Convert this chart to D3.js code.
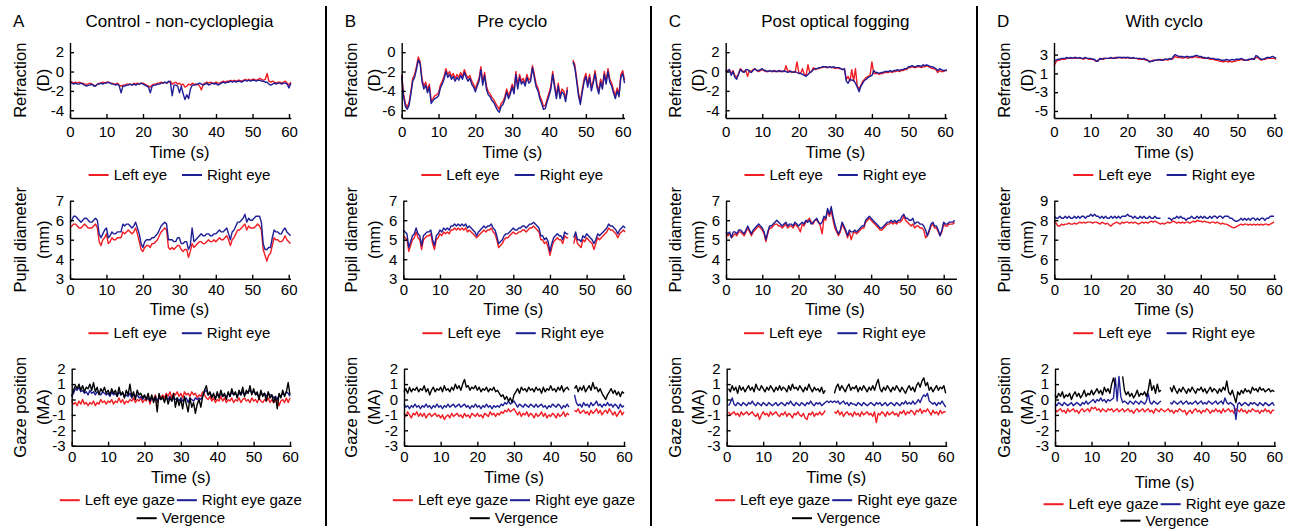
<!DOCTYPE html>
<html><head><meta charset="utf-8">
<script src="https://cdn.jsdelivr.net/npm/d3@7"></script>
<style>
body{margin:0;background:#fff}
svg text{font-family:"Liberation Sans",Arial,Helvetica,sans-serif;fill:#000}
</style>
</head><body>
<svg id="c" width="1294" height="531"></svg>
<script>
// ---------------- DATA ----------------
const DT = 0.5; // sampling step (s) of every series below
const timeTicks = [0,10,20,30,40,50,60];
const columnLetters = ["A","B","C","D"];
const columnTitles = ["Control - non-cycloplegia","Pre cyclo","Post optical fogging","With cyclo"];
const rowLabels = [["Refraction","(D)"],["Pupil diameter","(mm)"],["Gaze position","(MA)"]];
const legendEye = ["Left eye","Right eye"];
const legendGaze = ["Left eye gaze","Right eye gaze","Vergence"];
const xLabel = "Time (s)";

const refrTicksAC = [2,0,-2,-4];
const refrTicksB = [0,-2,-4,-6];
const refrTicksD = [3,1,-1,-3];
const refrTickLabelsD = ["3","1","-3","-5"];
const pupilTicks = [3,4,5,6,7];
const pupilTicksD = [5,6,7,8,9];
const gazeTicks = [2,1,0,-1,-2,-3];

// Column A
const refrLeftA = [
-1.0,-1.1,-1.2,-1.1,-1.2,-1.1,-1.2,-1.2,-1.3,-1.3,
-1.3,-1.2,-1.3,-1.4,-1.5,-1.3,-1.2,-1.2,-1.1,-1.2,
-1.1,-1.1,-1.2,-1.2,-1.3,-1.3,-1.2,-1.4,-1.5,-1.4,
-1.4,-1.3,-1.3,-1.3,-1.4,-1.2,-1.3,-1.2,-1.3,-1.2,
-1.2,-1.3,-1.4,-1.5,-1.6,-1.4,-1.3,-1.3,-1.2,-1.2,
-1.1,-1.2,-1.1,-1.2,-1.1,-1.0,-1.3,-1.2,-1.1,-1.3,
-1.2,-1.4,-1.3,-1.6,-1.5,-1.3,-1.4,-1.2,-1.3,-1.4,
-1.3,-1.5,-1.9,-1.3,-1.2,-1.1,-1.2,-1.1,-1.2,-1.2,
-1.1,-1.2,-1.2,-1.1,-1.0,-1.1,-1.0,-1.0,-0.9,-1.0,
-0.9,-1.0,-0.9,-0.9,-1.0,-0.9,-0.8,-0.9,-0.8,-0.9,
-0.8,-0.8,-0.9,-0.8,-0.7,-0.8,-0.9,-0.8,-0.2,-1.0,
-1.1,-1.0,-1.1,-1.2,-1.1,-1.1,-1.2,-1.1,-1.0,-1.2,
-1.4,-1.1];
const refrRightA = [
-1.1,-1.2,-1.3,-1.2,-1.3,-1.3,-1.2,-1.3,-1.4,-1.5,
-1.4,-1.4,-1.3,-1.5,-1.5,-1.3,-1.3,-1.2,-1.3,-1.2,
-1.2,-1.1,-1.2,-1.3,-1.3,-1.4,-1.3,-1.5,-2.2,-1.5,
-1.5,-1.4,-1.4,-1.3,-1.4,-1.3,-1.4,-1.3,-1.3,-1.2,
-1.3,-1.4,-1.5,-1.6,-2.2,-1.5,-1.4,-1.4,-1.3,-1.3,
-1.2,-1.2,-1.1,-1.2,-1.0,-1.1,-2.5,-1.4,-1.4,-1.5,
-2.2,-1.5,-2.3,-2.9,-2.4,-2.8,-1.8,-1.4,-1.4,-1.3,
-1.3,-1.2,-1.3,-1.4,-1.3,-1.2,-1.4,-1.3,-1.2,-1.3,
-1.2,-1.4,-1.3,-1.2,-1.1,-1.2,-1.1,-1.1,-1.0,-1.1,
-1.0,-1.1,-1.0,-1.0,-1.1,-1.0,-0.9,-1.0,-0.9,-1.0,
-0.9,-0.9,-1.0,-0.9,-0.9,-1.0,-1.0,-1.1,-1.1,-1.3,
-1.4,-1.3,-1.2,-1.3,-1.2,-1.2,-1.3,-1.2,-1.2,-1.3,
-1.7,-1.2];
const pupilLeftA = [
5.6,5.7,5.8,5.8,5.7,5.6,5.6,5.7,5.8,5.7,
5.6,5.6,5.6,5.7,5.8,5.6,4.9,4.7,5.0,5.1,
5.3,4.8,4.9,5.1,5.0,5.0,5.1,5.1,5.1,5.4,
5.3,5.4,5.5,5.4,5.3,5.4,5.6,5.3,4.9,4.5,
4.4,4.6,4.7,4.7,4.6,4.8,4.8,4.9,5.0,5.2,
5.4,5.5,5.6,5.5,4.6,4.5,4.6,4.5,4.6,4.7,
4.7,4.5,4.4,4.5,4.5,4.1,4.4,4.8,4.6,4.7,
4.8,4.9,4.9,4.8,4.8,4.9,5.0,4.9,4.9,5.0,
4.9,5.0,5.1,5.0,5.0,5.1,5.2,5.0,4.7,5.0,
5.1,5.3,5.5,5.5,5.6,5.7,5.8,5.5,5.7,5.6,
5.6,5.6,5.7,5.8,5.7,5.5,4.5,4.2,3.9,4.2,
4.3,4.7,5.1,5.0,5.0,4.9,4.9,5.0,5.2,5.0,
4.9,4.8];
const pupilRightA = [
5.9,6.0,6.2,6.2,6.1,6.0,5.9,6.0,6.1,6.1,
6.0,5.9,5.9,6.0,6.1,6.0,5.3,5.1,5.3,5.5,
5.6,5.1,5.2,5.4,5.3,5.3,5.4,5.4,5.4,5.8,
5.7,5.8,5.8,5.7,5.6,5.7,5.9,5.6,5.3,4.8,
4.6,4.9,5.0,5.0,5.0,5.1,5.1,5.2,5.3,5.5,
5.7,5.8,5.9,5.8,5.0,5.0,5.0,4.9,4.9,5.1,
5.1,4.8,4.8,4.9,4.9,4.5,4.7,5.6,4.9,5.0,
5.1,5.2,5.3,5.2,5.2,5.3,5.3,5.2,5.2,5.3,
5.3,5.4,5.5,5.4,5.4,5.5,5.6,5.3,5.0,5.4,
5.5,5.7,5.9,5.9,6.0,6.1,6.3,5.9,6.1,6.0,
6.0,6.1,6.2,6.2,6.2,5.9,4.8,4.5,4.5,4.6,
4.6,5.1,5.5,5.4,5.4,5.3,5.3,5.5,5.6,5.4,
5.3,5.2];
const gazeLeftA = [
-0.1,-0.3,-0.2,-0.4,-0.1,-0.3,0.0,-0.3,-0.2,-0.4,
-0.2,-0.3,-0.1,-0.4,-0.2,-0.3,0.0,-0.2,-0.1,-0.3,
-0.1,-0.2,0.0,-0.3,-0.1,-0.2,0.1,-0.2,0.0,-0.3,
-0.1,-0.2,0.0,-0.1,0.1,-0.2,0.0,-0.1,0.1,-0.2,
0.0,-0.1,0.2,-0.3,0.1,0.0,0.3,-0.2,0.2,0.1,
0.3,0.1,0.4,0.2,0.5,0.1,0.4,0.3,0.5,0.2,
0.4,0.1,0.5,0.3,0.4,0.2,0.5,0.3,0.4,0.1,
0.3,0.2,0.5,0.3,0.1,0.0,0.2,-0.1,0.1,-0.2,
0.0,-0.1,0.2,-0.1,0.1,-0.2,0.0,-0.1,0.1,-0.2,
0.0,-0.1,0.1,-0.2,0.0,0.1,-0.1,0.0,-0.2,0.1,
-0.1,0.0,-0.2,0.1,-0.1,-0.2,0.0,-0.1,0.1,-0.2,
0.0,-0.2,-0.1,0.1,-0.4,-0.1,0.0,-0.2,0.1,-0.2,
0.1];
const gazeRightA = [
0.2,0.4,0.7,0.6,0.8,0.5,0.6,0.4,0.5,0.3,
0.6,0.4,0.5,0.3,0.5,0.4,0.3,0.5,0.4,0.3,
0.4,0.2,0.5,0.3,0.4,0.2,0.5,0.3,0.4,0.2,
0.3,0.2,0.4,0.1,0.3,0.2,0.3,0.1,0.2,0.0,
0.2,0.0,0.1,-0.1,0.1,0.0,0.2,-0.1,0.1,0.0,
0.1,-0.1,0.1,0.0,0.2,-0.1,0.1,0.0,0.1,-0.1,
0.1,-0.1,0.0,0.1,-0.2,0.1,0.0,-0.1,0.1,0.0,
0.1,0.0,0.2,0.5,0.6,0.3,0.4,0.2,0.3,0.1,
0.3,0.2,0.4,0.2,0.3,0.1,0.4,0.2,0.5,0.3,
0.4,0.2,0.4,0.3,0.5,0.3,0.4,0.5,0.6,0.4,
0.5,0.4,0.3,0.2,0.4,0.3,0.4,0.2,0.4,0.3,
0.3,0.1,0.2,0.0,0.3,0.2,0.4,0.3,0.5,0.4,
0.2];
const vergenceA = [
0.2,0.6,0.9,0.7,1.0,0.6,0.9,0.5,0.8,0.7,
1.0,0.6,1.1,0.5,0.8,0.3,0.7,0.5,0.8,0.4,
0.6,0.3,0.7,0.4,0.6,0.2,0.8,0.3,0.5,0.1,
0.6,0.3,1.0,0.2,0.5,0.0,0.6,0.3,0.4,0.1,
0.3,0.0,0.4,-0.1,0.3,-0.2,0.2,-0.8,0.4,0.0,
0.2,-0.2,0.3,-0.3,0.1,-0.1,0.4,-0.5,0.1,-0.4,
0.0,-0.6,0.2,-0.3,-0.8,0.1,-0.5,-0.2,-0.9,-0.3,
0.0,-0.5,0.2,0.6,0.9,0.3,0.5,0.1,0.4,0.0,
0.5,0.1,0.6,0.2,0.4,0.0,0.5,0.2,0.7,0.3,
0.5,0.1,0.6,0.3,0.8,0.2,0.6,0.4,0.9,0.3,
0.7,0.3,0.5,0.0,0.6,0.2,0.4,-0.1,0.5,0.1,
0.3,-0.2,0.2,-0.6,0.4,0.1,0.6,0.2,0.5,1.1,
0.3];

// Column B
const refrLeftB = [
-2.3,-4.3,-5.3,-5.7,-5.2,-4.0,-2.7,-2.3,-1.5,-0.5,
-1.0,-2.7,-3.5,-3.1,-3.9,-3.3,-5.0,-4.8,-4.5,-4.4,
-4.2,-3.4,-3.0,-2.5,-1.7,-2.3,-2.0,-2.5,-2.2,-2.7,
-2.3,-2.6,-2.1,-2.5,-1.8,-2.3,-2.7,-2.4,-3.0,-3.3,
-3.8,-3.2,-2.7,-1.5,-3.1,-2.1,-3.5,-4.1,-4.3,-4.7,
-4.9,-5.3,-5.6,-5.9,-5.3,-5.1,-4.6,-3.8,-4.5,-4.0,
-3.3,-4.0,-2.0,-3.5,-2.3,-3.0,-2.7,-3.2,-2.3,-2.9,
-2.7,-1.4,-2.3,-3.3,-3.7,-4.5,-5.0,-5.6,-5.5,-4.8,
-4.2,-3.5,-2.0,-3.3,-4.5,-3.2,-4.5,-3.8,-4.0,-4.8,
-3.6,null,null,-0.8,-1.3,-2.7,-4.2,-5.1,-3.9,-2.8,
-2.2,-3.3,-2.3,-3.7,-2.9,-1.9,-3.3,-4.0,-2.8,-3.5,
-2.0,-3.0,-1.7,-2.8,-3.2,-3.9,-4.5,-3.7,-4.3,-2.3,
-1.9,-2.9];
const refrRightB = [
-2.5,-4.6,-5.6,-5.9,-5.5,-4.3,-3.0,-2.6,-1.8,-0.8,
-1.2,-3.0,-3.8,-3.4,-4.2,-3.6,-5.3,-5.0,-4.8,-4.7,
-4.5,-3.7,-3.3,-2.8,-2.0,-2.6,-2.3,-2.8,-2.5,-3.0,
-2.6,-2.9,-2.4,-2.8,-2.1,-2.6,-3.0,-2.7,-3.3,-3.6,
-4.1,-3.5,-3.0,-1.8,-3.4,-2.4,-3.8,-4.4,-4.6,-5.0,
-5.2,-5.6,-6.0,-6.2,-5.6,-5.4,-4.9,-4.1,-4.8,-4.3,
-3.6,-4.3,-2.3,-3.8,-2.6,-3.3,-3.0,-3.5,-2.6,-3.2,
-3.0,-1.6,-2.6,-3.6,-4.0,-4.8,-5.3,-5.9,-5.8,-5.1,
-4.5,-3.8,-2.3,-3.6,-4.8,-3.5,-4.8,-4.1,-4.3,-5.1,
-3.9,null,null,-1.0,-1.6,-3.0,-4.5,-5.4,-4.2,-3.1,
-2.5,-3.6,-2.6,-4.0,-3.2,-2.2,-3.6,-4.3,-3.1,-3.8,
-2.3,-3.3,-2.0,-3.1,-3.5,-4.2,-4.8,-4.0,-4.6,-2.6,
-2.2,-3.2];
const pupilLeftB = [
5.2,5.1,5.0,4.4,4.7,5.0,5.1,5.4,5.1,5.0,
4.5,5.0,5.1,5.2,5.2,5.3,4.8,4.5,5.0,5.1,
5.3,5.2,5.4,5.3,5.4,5.3,5.5,5.5,5.6,5.5,
5.6,5.5,5.6,5.5,5.6,5.4,5.5,5.4,5.3,5.2,
5.1,5.2,5.3,5.4,5.5,5.4,5.5,5.5,5.6,5.4,
5.3,5.0,4.6,4.7,4.8,5.0,5.1,5.1,5.2,5.3,
5.4,5.3,5.3,5.4,5.4,5.5,5.5,5.4,5.5,5.6,
5.6,5.7,5.6,5.5,5.4,5.0,5.0,4.8,4.9,4.6,
4.2,4.6,4.9,5.0,5.1,5.0,5.0,4.8,5.2,5.1,
5.1,null,null,4.8,5.2,4.8,4.7,4.6,5.0,4.9,
5.1,5.0,4.9,4.8,4.5,4.8,5.1,5.0,5.1,5.2,
5.3,5.4,5.6,5.5,5.5,5.4,5.3,5.1,5.3,5.4,
5.5,5.4];
const pupilRightB = [
5.5,5.4,5.3,4.6,4.9,5.2,5.3,5.6,5.3,5.2,
4.7,5.2,5.3,5.4,5.4,5.5,5.0,4.7,5.2,5.3,
5.5,5.4,5.6,5.5,5.6,5.5,5.7,5.7,5.8,5.7,
5.8,5.7,5.8,5.7,5.8,5.6,5.7,5.6,5.5,5.4,
5.2,5.4,5.5,5.6,5.7,5.6,5.7,5.7,5.8,5.6,
5.5,5.2,4.8,4.9,5.0,5.2,5.3,5.3,5.4,5.5,
5.6,5.5,5.5,5.6,5.6,5.7,5.7,5.6,5.7,5.8,
5.8,5.9,5.8,5.7,5.6,5.2,5.2,5.0,5.1,4.9,
4.4,4.8,5.1,5.2,5.3,5.2,5.2,5.0,5.4,5.3,
5.3,null,null,5.1,5.4,5.0,5.0,4.9,5.2,5.1,
5.3,5.2,5.1,5.0,4.8,5.0,5.3,5.2,5.3,5.4,
5.5,5.6,5.8,5.7,5.7,5.6,5.5,5.3,5.5,5.6,
5.7,5.6];
const gazeLeftB = [
-0.9,-1.1,-0.8,-1.0,-1.2,-0.9,-1.0,-0.8,-1.1,-0.9,
-1.1,-0.9,-1.2,-1.0,-0.9,-1.1,-1.0,-0.9,-1.1,-1.0,
-1.2,-1.0,-1.3,-1.1,-1.0,-1.2,-0.9,-1.1,-1.0,-0.9,
-1.1,-1.0,-1.2,-0.9,-1.1,-1.0,-1.2,-0.9,-1.0,-1.1,
-0.9,-1.1,-1.0,-1.2,-0.9,-1.0,-1.1,-0.8,-1.0,-0.9,
-1.1,-0.9,-1.0,-0.8,-0.9,-0.7,-0.8,-0.6,-0.8,-0.7,
-0.6,-0.8,-1.0,-0.8,-1.1,-0.9,-1.0,-0.8,-1.1,-0.9,
-1.0,-1.2,-0.9,-1.1,-1.0,-0.8,-1.1,-0.9,-1.2,-1.0,
-1.1,-0.9,-1.0,-1.2,-0.9,-1.1,-1.0,-0.8,-1.1,-0.9,
-1.0,null,null,-0.7,-0.8,-0.6,-0.9,-0.8,-0.7,-0.9,
-0.8,-1.0,-0.7,-0.9,-0.8,-0.6,-0.9,-0.7,-1.0,-0.8,
-0.7,-0.9,-0.6,-0.8,-1.0,-0.8,-1.1,-0.9,-0.7,-1.0,
-0.8];
const gazeRightB = [
-0.3,-0.5,-0.4,-0.6,-0.4,-0.5,-0.3,-0.5,-0.4,-0.6,
-0.4,-0.5,-0.3,-0.5,-0.4,-0.6,-0.4,-0.5,-0.3,-0.5,
-0.4,-0.6,-0.4,-0.5,-0.3,-0.5,-0.4,-0.3,-0.5,-0.4,
-0.3,-0.5,-0.4,-0.3,-0.5,-0.4,-0.6,-0.4,-0.5,-0.3,
-0.5,-0.4,-0.6,-0.4,-0.5,-0.3,-0.5,-0.4,-0.6,-0.4,
-0.5,-0.4,-0.5,-0.3,-0.4,-0.2,-0.3,-0.1,-0.3,-0.2,
-0.1,-0.3,-0.5,-0.3,-0.4,-0.5,-0.3,-0.4,-0.5,-0.3,
-0.4,-0.5,-0.3,-0.5,-0.4,-0.3,-0.5,-0.4,-0.6,-0.4,
-0.5,-0.3,-0.4,-0.5,-0.3,-0.4,-0.6,-0.4,-0.5,-0.3,
-0.5,null,null,0.3,-0.2,-0.4,-0.3,-0.5,-0.2,-0.4,
-0.3,-0.5,-0.2,-0.4,-0.3,-0.1,-0.4,-0.3,-0.5,-0.3,
-0.4,-0.2,-0.4,-0.3,-0.5,-0.3,-0.4,-0.6,-0.3,-0.5,
-0.4];
const vergenceB = [
0.5,0.7,0.4,0.8,0.5,0.7,0.6,0.8,0.5,0.7,
0.6,0.9,0.5,0.7,0.3,0.6,0.8,0.5,0.7,0.6,
0.8,0.5,0.9,0.6,0.7,0.5,0.8,0.6,1.0,0.7,
0.9,0.6,1.0,1.3,0.8,0.9,0.6,0.8,0.7,0.9,
0.6,0.8,0.5,0.7,0.6,0.8,0.5,0.7,0.6,0.8,
0.5,0.6,0.4,0.2,0.3,0.0,0.2,-0.1,0.1,-0.2,
0.3,0.5,0.7,0.4,0.8,0.6,0.7,0.5,0.8,0.6,
0.7,0.5,0.8,0.6,0.7,0.4,0.8,0.5,0.7,0.6,
0.9,0.6,0.7,0.5,0.8,0.6,0.9,0.5,0.7,0.8,
0.6,null,null,0.7,0.9,0.5,0.8,0.6,0.9,0.5,
0.7,0.9,0.6,1.1,0.7,0.8,0.5,0.7,0.4,0.2,
0.0,0.3,0.5,0.7,0.4,0.6,0.3,0.5,0.2,0.5,
0.4];

// Column C
const refrLeftC = [
0.2,0.1,0.2,-0.2,0.1,-0.4,-0.6,-0.2,0.3,0.1,
0.0,0.1,-0.5,0.1,0.0,0.2,0.3,0.1,0.0,0.1,
0.2,0.1,0.0,0.0,0.1,0.0,0.0,0.1,0.0,0.0,
0.1,0.0,0.0,0.6,0.0,0.1,-0.1,0.0,-0.1,1.0,
-0.1,-0.2,0.3,-0.3,-0.4,0.7,-0.1,0.0,0.4,0.2,
0.3,0.3,0.4,0.4,0.5,0.4,0.4,0.5,0.4,0.4,
0.3,0.4,0.3,0.3,0.2,0.2,-0.8,-0.5,-1.0,0.2,
-1.0,0.3,-1.5,-1.8,-1.4,-1.0,-0.8,-0.6,-0.5,-0.4,
1.0,-0.2,-0.2,-0.2,-0.3,-0.2,-0.2,-0.1,-0.1,-0.1,
0.0,-0.1,0.0,0.0,0.1,0.0,0.1,0.1,0.2,0.2,
0.4,0.4,0.5,0.4,0.4,0.5,0.5,0.4,0.5,0.5,
0.6,0.5,0.4,0.3,0.3,0.2,-0.1,0.1,0.0,0.0,
0.1,0.1];
const refrRightC = [
0.1,0.0,0.2,-0.4,0.0,-0.6,-0.8,-0.3,0.2,0.0,
-0.1,0.2,0.2,0.0,-0.1,0.1,0.3,0.1,0.1,0.2,
0.3,0.1,0.1,0.0,0.1,0.0,0.1,0.0,0.0,0.1,
0.0,0.0,0.1,0.0,-0.1,0.0,0.0,-0.1,0.0,-0.1,
-0.2,-0.2,-0.3,-0.4,-0.5,-0.3,-0.1,0.0,0.2,0.3,
0.3,0.4,0.4,0.5,0.5,0.5,0.4,0.5,0.4,0.5,
0.4,0.4,0.4,0.3,0.2,0.3,-1.0,-1.2,-0.8,-0.9,
-0.9,-1.2,-1.6,-2.1,-1.5,-1.2,-0.9,-0.8,-0.6,-0.5,
-0.4,0.1,-0.1,-0.1,-0.2,-0.1,-0.1,0.0,0.0,0.0,
0.1,0.0,0.1,0.1,0.2,0.1,0.2,0.2,0.3,0.3,
0.5,0.5,0.6,0.5,0.5,0.6,0.6,0.5,0.7,0.6,
0.7,0.6,0.5,0.5,0.4,0.3,0.1,0.3,0.2,0.1,
0.1,0.2];
const pupilLeftC = [
5.3,5.2,5.3,5.1,5.2,5.3,5.2,5.4,5.4,5.3,
5.2,5.4,5.6,5.4,5.2,5.4,5.5,5.6,5.7,5.6,
5.5,5.3,4.9,5.3,5.6,5.6,5.7,5.8,5.8,5.7,
5.7,5.6,5.7,5.8,5.6,5.7,5.7,5.6,5.8,5.7,
5.6,5.4,5.8,5.7,5.9,6.0,6.1,5.9,5.8,6.0,
6.0,5.9,5.7,5.3,6.1,6.0,6.5,6.2,6.5,6.0,
5.6,5.4,5.2,5.4,5.8,5.6,5.4,5.1,5.4,5.0,
5.3,5.4,5.3,5.4,5.5,5.6,5.6,5.9,6.0,6.1,
6.0,5.9,5.8,5.7,5.6,5.5,5.5,5.6,5.7,5.8,
5.8,5.9,5.8,5.9,5.8,5.9,5.9,6.0,6.2,6.0,
5.9,5.8,5.7,5.8,5.6,5.7,5.7,5.6,5.6,5.5,
5.1,5.2,5.4,5.7,5.8,5.6,5.6,5.4,5.2,5.4,
5.8,5.7,5.7,5.8,5.8,5.8,5.9];
const pupilRightC = [
5.4,5.3,5.4,5.1,5.4,5.4,5.3,5.5,5.5,5.4,
5.3,5.5,5.7,5.5,5.3,5.5,5.6,5.7,5.8,5.7,
5.6,5.4,5.0,5.4,5.7,5.7,5.8,5.9,6.0,5.9,
5.8,5.7,5.8,5.9,5.7,5.8,5.8,5.7,5.9,5.8,
5.7,5.8,5.9,5.8,6.0,5.9,6.0,5.8,5.9,6.0,
6.1,5.9,5.8,5.9,6.2,6.1,6.6,6.3,6.7,6.2,
5.8,5.5,5.3,5.5,5.9,5.7,5.5,5.2,5.5,5.4,
5.4,5.5,5.4,5.5,5.6,5.7,5.7,6.0,6.1,6.2,
6.1,6.0,5.9,5.8,5.7,5.6,5.6,5.7,5.8,5.9,
5.9,6.0,5.9,6.0,5.9,6.0,6.0,6.2,6.3,6.1,
6.1,6.0,6.0,6.1,5.8,5.9,5.9,5.8,5.8,5.7,
5.5,5.2,5.5,5.8,5.9,5.7,5.7,5.5,5.2,5.5,
5.9,5.8,5.8,5.9,5.9,5.9,6.0];
const gazeLeftC = [
null,-0.8,-1.0,-0.9,-0.8,-1.0,-0.9,-1.1,-0.8,-1.0,
-0.9,-0.8,-1.0,-0.9,-0.8,-1.0,-1.1,-0.9,-1.3,-1.0,
-0.8,-1.0,-0.9,-1.1,-0.8,-1.0,-0.9,-0.8,-1.0,-1.1,
-0.9,-1.0,-0.8,-1.1,-0.9,-1.0,-1.2,-0.9,-1.0,-0.8,
-1.0,-1.1,-0.9,-1.2,-1.3,-0.9,-1.0,-0.8,-1.1,-0.9,
-1.0,-0.8,-1.0,-0.9,-0.7,null,null,null,null,-0.8,
-0.9,-0.7,-1.0,-0.8,-1.1,-0.9,-0.8,-1.0,-0.9,-1.1,
-0.8,-1.0,-0.9,-1.1,-0.8,-1.0,-0.9,-0.8,-1.0,-0.9,
-1.1,-0.8,-1.5,-0.9,-1.0,-0.8,-0.9,-1.1,-0.8,-1.0,
-0.9,-0.8,-1.0,-0.9,-1.1,-0.8,-0.9,-0.7,-1.0,-0.8,
-0.9,-0.7,-0.8,-1.0,-0.7,-0.8,-0.6,-0.9,-0.7,-0.8,
-0.6,-0.8,-1.0,-0.7,-0.9,-0.8,-1.0,-0.7,-0.9,-0.8,
-0.8];
const gazeRightC = [
null,-0.4,-0.2,0.1,-0.3,-0.4,-0.2,-0.3,-0.4,-0.2,
-0.3,-0.4,-0.2,-0.3,-0.1,-0.3,-0.4,-0.2,-0.3,-0.4,
-0.2,-0.3,-0.4,-0.2,-0.3,-0.4,-0.3,-0.2,-0.4,-0.3,
-0.2,-0.3,-0.4,-0.2,-0.3,-0.1,-0.3,-0.4,-0.2,-0.3,
-0.4,-0.2,-0.3,-0.4,-0.2,-0.3,-0.1,-0.3,-0.4,-0.2,
-0.3,-0.2,-0.4,-0.3,-0.2,-0.1,-0.2,-0.1,-0.2,-0.1,
-0.2,-0.1,-0.3,-0.2,-0.1,-0.3,-0.2,-0.4,-0.2,-0.3,
-0.3,-0.4,-0.2,-0.3,-0.4,-0.2,-0.3,-0.4,-0.3,-0.2,
-0.3,-0.4,-0.2,-0.3,-0.2,-0.4,-0.3,-0.2,-0.4,-0.3,
-0.2,-0.3,-0.4,-0.2,-0.3,-0.4,-0.2,-0.3,-0.1,-0.3,
-0.2,-0.3,-0.1,-0.3,-0.2,0.0,-0.2,0.1,0.3,0.2,
0.4,-0.1,-0.2,-0.3,-0.2,-0.4,-0.2,-0.3,-0.1,-0.3,
-0.5];
const vergenceC = [
null,0.7,0.5,0.9,0.6,0.8,0.4,0.9,0.6,0.8,
0.5,0.7,0.9,0.6,0.8,0.5,1.0,0.7,0.6,0.9,
0.7,0.5,0.8,0.6,0.9,0.7,0.5,0.8,0.6,0.9,
0.6,0.8,0.7,0.5,0.9,0.6,1.0,0.7,0.8,0.6,
0.9,0.7,0.5,0.8,0.6,1.0,0.7,0.5,0.8,0.6,
0.7,0.5,0.8,0.4,0.6,null,null,null,null,0.4,
0.8,1.0,0.6,0.9,0.7,0.5,0.8,1.0,0.6,0.8,
0.7,0.9,0.5,0.8,0.6,0.9,0.7,0.5,0.8,0.6,
0.9,0.6,1.0,1.3,0.7,0.5,0.8,0.6,0.9,0.7,
0.5,0.8,0.6,0.9,0.7,0.5,0.8,0.6,0.4,0.7,
0.9,0.6,0.8,0.5,0.9,1.1,0.8,1.2,1.4,0.9,
1.1,0.6,0.8,0.5,0.7,0.9,0.6,0.8,0.7,0.9,
0.4];

// Column D
const refrLeftD = [
1.8,2.2,2.4,2.4,2.5,2.5,2.5,2.6,2.6,2.6,
2.6,2.6,2.6,2.6,2.6,2.6,2.5,2.6,2.6,2.5,
2.5,2.5,2.4,2.3,2.4,2.5,2.6,2.5,2.6,2.6,
2.6,2.6,2.6,2.7,2.6,2.7,2.7,2.6,2.7,2.6,
2.7,2.6,2.6,2.6,2.6,2.6,2.5,2.5,2.5,2.5,
2.4,2.4,2.3,2.3,2.4,2.4,2.4,2.4,2.5,2.4,
2.4,2.5,2.4,2.5,2.5,2.6,2.8,2.7,2.7,2.7,
2.6,2.7,2.7,2.6,2.7,2.7,2.7,2.8,2.7,2.7,
2.7,2.6,2.6,2.6,2.6,2.5,2.5,2.5,2.4,2.4,
2.3,2.3,2.2,2.3,2.3,2.2,2.3,2.2,2.3,2.3,
2.4,2.4,2.5,2.4,2.4,2.4,2.4,2.5,2.5,2.5,
2.7,2.7,2.5,2.4,2.5,2.5,2.6,2.6,2.6,2.6,
2.6,2.5];
const refrRightD = [
2.2,2.4,2.5,2.5,2.6,2.6,2.6,2.7,2.6,2.7,
2.6,2.7,2.7,2.6,2.7,2.6,2.6,2.7,2.6,2.6,
2.6,2.5,2.5,2.3,2.3,2.6,2.5,2.6,2.6,2.6,
2.6,2.7,2.6,2.6,2.7,2.7,2.7,2.7,2.7,2.7,
2.7,2.7,2.6,2.7,2.6,2.6,2.6,2.6,2.5,2.6,
2.5,2.4,2.2,2.3,2.3,2.4,2.4,2.5,2.4,2.4,
2.5,2.5,2.5,2.6,2.5,2.8,3.0,2.9,2.8,2.8,
2.8,2.7,2.8,2.8,2.7,2.8,2.8,2.9,2.9,2.8,
2.8,2.7,2.7,2.6,2.7,2.6,2.6,2.6,2.5,2.5,
2.5,2.4,2.4,2.4,2.5,2.4,2.4,2.5,2.4,2.5,
2.5,2.5,2.6,2.5,2.4,2.4,2.5,2.5,2.6,2.5,
2.9,2.8,2.6,2.5,2.5,2.6,2.7,2.7,2.7,2.8,
2.7,2.6];
const pupilLeftD = [
7.9,7.85,7.7,7.7,7.8,7.75,7.8,7.8,7.85,7.8,
7.8,7.85,7.8,7.85,7.9,7.85,7.9,7.85,7.9,7.9,
7.9,7.85,7.9,7.9,7.85,7.8,7.9,7.85,7.8,7.85,
7.75,7.7,7.8,7.85,7.9,7.85,7.8,7.9,7.85,7.9,
7.9,7.85,7.9,7.85,7.9,7.85,7.8,7.85,7.9,7.85,
7.9,7.85,7.9,7.95,7.9,7.95,7.9,7.85,7.8,7.85,
7.8,7.85,7.9,7.85,7.9,7.95,7.9,7.85,7.9,7.85,
7.9,7.85,7.9,7.9,7.85,7.9,7.95,7.9,8.0,7.95,
7.95,7.9,7.95,7.9,7.9,7.85,7.9,7.9,7.85,7.9,
7.85,7.8,7.85,7.8,7.8,7.75,7.7,7.65,7.6,7.65,
7.7,7.75,7.8,7.75,7.8,7.8,7.75,7.8,7.75,7.8,
7.75,7.8,7.75,7.8,7.75,7.8,7.8,7.75,7.8,7.85,
7.9];
const pupilRightD = [
8.2,8.1,8.1,8.2,8.1,8.1,8.2,8.1,8.2,8.1,
8.1,8.2,8.1,8.2,8.1,8.2,8.2,8.1,8.2,8.2,
8.3,8.2,8.3,8.2,8.2,8.1,8.2,8.1,8.2,8.1,
8.1,8.2,8.1,8.2,8.1,8.2,8.1,8.2,8.2,8.2,
8.3,8.2,8.2,8.1,8.2,8.1,8.1,8.2,8.1,8.2,
8.1,8.1,8.2,8.1,8.1,8.2,8.1,8.1,8.1,null,
null,null,8.1,8.1,8.0,8.1,8.1,8.2,8.1,8.2,
8.1,8.1,8.0,8.1,8.1,8.2,8.1,8.1,8.2,8.1,
8.2,8.1,8.2,8.1,8.1,8.2,8.1,8.2,8.2,8.1,
8.2,8.2,8.1,8.2,8.2,8.2,8.1,8.1,8.0,7.95,
7.95,8.0,8.1,8.0,8.1,8.0,8.1,8.0,8.1,8.1,
8.0,8.1,8.0,8.1,8.1,8.0,8.1,8.1,8.2,8.2,
8.2];
const gazeLeftD = [
-0.6,-0.8,-0.7,-0.6,-0.8,-0.7,-0.9,-0.6,-0.8,-0.7,
-0.6,-0.8,-0.7,-0.9,-0.7,-0.6,-0.8,-0.7,-0.6,-0.8,
-0.5,-0.6,-0.5,-0.7,-0.6,-0.8,-0.6,-0.7,-0.8,-0.6,
-0.7,-0.6,-0.8,-0.7,-0.6,-0.8,-0.7,-0.6,-0.8,-0.7,
-0.6,-0.8,-0.7,-0.9,-0.7,-0.6,-0.8,-0.7,-0.6,-0.8,
-0.7,-0.6,-0.8,-0.7,-0.9,-0.6,-0.7,-0.8,-0.6,-0.7,
-0.8,-0.7,-0.6,-0.8,-0.7,-0.9,-0.7,-0.8,-0.6,-0.7,
-0.8,-0.7,-1.0,-0.8,-0.7,-0.9,-0.7,-0.6,-0.8,-0.7,
-0.9,-0.7,-0.8,-0.6,-0.7,-0.9,-0.7,-0.8,-0.6,-0.8,
-0.7,-0.9,-0.6,-0.8,-0.7,-0.6,-0.8,-0.7,-0.9,-0.6,
-0.7,-0.8,-0.6,-0.8,-0.7,-0.9,-0.7,-0.8,-0.6,-0.7,
-0.8,-0.7,-0.9,-0.7,-0.8,-0.6,-0.8,-0.7,-0.9,-0.7,
-0.7];
const gazeRightD = [
-0.3,-0.4,-0.2,-0.3,-0.4,-0.2,-0.3,-0.4,-0.3,-0.2,
-0.4,-0.3,-0.2,-0.3,-0.4,-0.2,-0.3,-0.1,-0.3,-0.2,
-0.1,0.0,-0.2,0.0,-0.1,0.1,-0.1,0.0,-0.2,0.0,
-0.1,0.0,0.1,1.4,-0.1,1.5,0.2,-0.2,-0.1,-0.2,
-0.3,-0.1,-0.2,-0.3,-0.1,-0.2,-0.3,-0.1,-0.2,-0.3,
-0.1,0.4,-0.2,-0.3,-0.1,-0.2,-0.3,-0.2,-0.1,null,
null,null,null,-0.2,-0.3,-0.1,-0.2,-0.3,-0.2,-0.1,
-0.3,-0.2,-0.1,-0.3,-0.2,-0.3,-0.2,-0.1,-0.3,-0.2,
-0.1,-0.3,-0.2,-0.3,-0.1,-0.2,-0.3,-0.2,-0.1,-0.3,
-0.2,-0.1,-0.3,0.1,-0.2,-0.3,-0.2,-0.3,-0.4,-1.3,
-0.3,-0.2,-0.4,-0.3,-0.2,-0.3,-0.4,-0.2,-0.3,-0.2,
-0.3,-0.4,-0.2,-0.3,-0.4,-0.2,-0.3,-0.4,-0.3,-0.2,
-0.4];
const vergenceD = [
0.3,0.1,0.4,0.2,0.5,0.1,0.3,0.2,0.4,0.0,
0.3,0.5,0.2,0.4,0.1,0.3,0.6,0.2,0.4,0.3,
0.6,0.3,0.5,0.7,0.4,0.6,0.3,0.8,0.5,0.7,
0.4,1.0,1.4,0.9,null,null,null,1.5,0.6,0.3,
0.5,0.2,0.4,0.1,0.3,0.6,0.2,0.4,0.3,0.5,
0.2,0.6,1.3,0.6,0.9,0.4,1.0,0.5,0.6,null,
null,null,null,0.8,0.5,0.9,0.6,0.4,0.7,0.5,
0.8,0.6,0.4,0.7,0.5,0.8,0.6,0.4,0.7,0.6,
0.8,0.5,0.7,0.4,0.6,0.8,0.5,0.7,0.6,0.4,
0.7,0.5,0.8,0.6,1.2,0.5,0.3,0.6,0.2,-0.2,
0.5,0.3,0.6,0.4,0.7,0.5,0.6,0.4,0.8,0.6,
0.7,0.5,0.8,0.6,0.7,0.5,0.6,0.7,0.5,0.6,
0.5];

// ---------------- LAYOUT / STYLE ----------------
const COLOR_LEFT = "#f11d24", COLOR_RIGHT = "#1e1e96", COLOR_VERG = "#000000";
const TICK_FS = 15, LABEL_FS = 16.5, LEGEND_FS = 15, TITLE_FS = 17;

// measured pixel positions of t=0 and t=60 for each [column][row]
const xPix = [
 [[70,289],[70,288.7],[71.7,290]],
 [[401.7,622.7],[403.3,623.3],[404,624]],
 [[725.7,945],[726,943.7],[726.7,945.7]],
 [[1054,1274.3],[1054.3,1274],[1055,1274.3]]
];
const rowGeom = [
 {yr:[118,42.5], tickPad:8, timeDy:40, legendDy:57},
 {yr:[278.7,200.7], tickPad:6, timeDy:36, legendDy:54.5},
 {yr:[445.7,368.7], tickPad:6, timeDy:37.5, legendDy:54.5}
];
const separators = [326, 651, 977];

const eyeLegend = [[{c:COLOR_LEFT,l:legendEye[0]},{c:COLOR_RIGHT,l:legendEye[1]}]];
const gazeLegend = [[{c:COLOR_LEFT,l:legendGaze[0]},{c:COLOR_RIGHT,l:legendGaze[1]}],[{c:COLOR_VERG,l:legendGaze[2]}]];

const panels = [
 // column A
 {c:0,r:0,xmax:60.5,yd:[-4.8,3.0],ticks:refrTicksAC,lines:[[refrLeftA,COLOR_LEFT],[refrRightA,COLOR_RIGHT]],legend:eyeLegend},
 {c:0,r:1,xmax:60.5,yd:[3,7],ticks:pupilTicks,lines:[[pupilLeftA,COLOR_LEFT],[pupilRightA,COLOR_RIGHT]],legend:eyeLegend},
 {c:0,r:2,xmax:60.3,yd:[-3,2],ticks:gazeTicks,lines:[[gazeLeftA,COLOR_LEFT],[gazeRightA,COLOR_RIGHT],[vergenceA,COLOR_VERG]],legend:gazeLegend},
 // column B
 {c:1,r:0,xmax:60.5,yd:[-6.8,1.0],ticks:refrTicksB,lines:[[refrLeftB,COLOR_LEFT],[refrRightB,COLOR_RIGHT]],legend:eyeLegend},
 {c:1,r:1,xmax:60.5,yd:[3,7],ticks:pupilTicks,lines:[[pupilLeftB,COLOR_LEFT],[pupilRightB,COLOR_RIGHT]],legend:eyeLegend},
 {c:1,r:2,xmax:60.3,yd:[-3,2],ticks:gazeTicks,lines:[[gazeLeftB,COLOR_LEFT],[gazeRightB,COLOR_RIGHT],[vergenceB,COLOR_VERG]],legend:gazeLegend},
 // column C
 {c:2,r:0,xmax:60.5,yd:[-4.8,3.0],ticks:refrTicksAC,lines:[[refrLeftC,COLOR_LEFT],[refrRightC,COLOR_RIGHT]],legend:eyeLegend},
 {c:2,r:1,xmax:63.5,yd:[3,7],ticks:pupilTicks,lines:[[pupilLeftC,COLOR_LEFT],[pupilRightC,COLOR_RIGHT]],legend:eyeLegend},
 {c:2,r:2,xmax:60.3,yd:[-3,2],ticks:gazeTicks,lines:[[gazeLeftC,COLOR_LEFT],[gazeRightC,COLOR_RIGHT],[vergenceC,COLOR_VERG]],legend:gazeLegend},
 // column D
 {c:3,r:0,xmax:60.5,yd:[-3.75,4.29],ticks:refrTicksD,tickLabels:refrTickLabelsD,lines:[[refrLeftD,COLOR_LEFT],[refrRightD,COLOR_RIGHT]],legend:eyeLegend},
 {c:3,r:1,xmax:60.5,yd:[5,9],ticks:pupilTicksD,lines:[[pupilLeftD,COLOR_LEFT],[pupilRightD,COLOR_RIGHT]],legend:eyeLegend},
 {c:3,r:2,xmax:60.3,yd:[-3,2],ticks:gazeTicks,lines:[[gazeLeftD,COLOR_LEFT],[gazeRightD,COLOR_RIGHT],[vergenceD,COLOR_VERG]],legend:gazeLegend,timeDy:42.5,legendDy:58.5,legendRowGap:16.5}
];

// ---------------- DRAW ----------------
const svg = d3.select("#c");

separators.forEach(x => {
  svg.append("line").attr("x1",x).attr("x2",x).attr("y1",6).attr("y2",526)
     .attr("stroke","#000").attr("stroke-width",2);
});

// column titles
columnLetters.forEach((L,c) => {
  const x0 = xPix[c][0][0], x60 = xPix[c][0][1];
  svg.append("text").attr("x",x0-57).attr("y",27).attr("font-size",TITLE_FS).text(L);
  svg.append("text").attr("x",(x0+x60)/2).attr("y",27).attr("font-size",TITLE_FS)
     .attr("text-anchor","middle").text(columnTitles[c]);
});

const toSeries = vals => vals.map((v,i) => ({t:i*DT, v}));

panels.forEach(p => {
  const [x0,x60] = xPix[p.c][p.r];
  const g = rowGeom[p.r];
  const pxPerS = (x60-x0)/60;
  const x = d3.scaleLinear().domain([0,p.xmax]).range([x0, x0 + pxPerS*p.xmax]);
  const y = d3.scaleLinear().domain(p.yd).range(g.yr);
  const yBottom = g.yr[0];
  const gp = svg.append("g");

  // data lines
  const line = d3.line().defined(d => d.v !== null).x(d => x(d.t)).y(d => y(d.v));
  p.lines.forEach(([vals,color]) => {
    gp.append("path").datum(toSeries(vals)).attr("d",line)
      .attr("fill","none").attr("stroke",color).attr("stroke-width",1.4)
      .attr("stroke-linejoin","round");
  });

  // axes
  const xa = gp.append("g").attr("transform",`translate(0,${yBottom})`)
    .call(d3.axisBottom(x).tickValues(timeTicks).tickFormat(d => String(d))
      .tickSizeInner(-4).tickSizeOuter(0).tickPadding(g.tickPad));
  const yfmt = p.tickLabels ? ((d,i) => p.tickLabels[i]) : (d => String(d));
  const ya = gp.append("g").attr("transform",`translate(${x0},0)`)
    .call(d3.axisLeft(y).tickValues(p.ticks).tickFormat(yfmt)
      .tickSizeInner(-4).tickSizeOuter(0).tickPadding(6));
  [xa,ya].forEach(a => {
    a.attr("font-size",null).attr("font-family",null);
    a.selectAll("text").attr("font-size",TICK_FS).attr("fill","#000");
    a.selectAll("line,path").attr("stroke","#000").attr("stroke-width",1.4);
  });

  // x label
  const tdy = p.timeDy !== undefined ? p.timeDy : g.timeDy;
  const cx = x(30);
  gp.append("text").attr("x",cx).attr("y",yBottom+tdy).attr("text-anchor","middle")
    .attr("font-size",LABEL_FS).text(xLabel);

  // y label (two lines, rotated)
  const colX0 = xPix[p.c][0][0];
  const yMid = (g.yr[0]+g.yr[1])/2;
  rowLabels[p.r].forEach((txt,k) => {
    const lx = colX0 + (k===0 ? -50 : -27);
    gp.append("text").attr("transform",`translate(${lx},${yMid}) rotate(-90)`)
      .attr("text-anchor","middle").attr("dy","0.35em").attr("font-size",LABEL_FS).text(txt);
  });

  // legend
  const ldy = p.legendDy !== undefined ? p.legendDy : g.legendDy;
  const rowGap = p.legendRowGap !== undefined ? p.legendRowGap : 18;
  const itemGap = p.r === 2 ? 2 : 15;
  p.legend.forEach((items,ri) => {
    const ly = yBottom + ldy + ri*rowGap;
    const lg = gp.append("g");
    let pos = 0;
    items.forEach((it,k) => {
      if (k>0) pos += itemGap;
      lg.append("line").attr("x1",pos).attr("x2",pos+20).attr("y1",ly).attr("y2",ly)
        .attr("stroke",it.c).attr("stroke-width",2);
      pos += 25;
      const t = lg.append("text").attr("x",pos).attr("y",ly).attr("dy","0.35em")
        .attr("font-size",LEGEND_FS).text(it.l);
      pos += t.node().getComputedTextLength();
    });
    lg.attr("transform",`translate(${cx - pos/2},0)`);
  });
});
</script>
</body></html>
